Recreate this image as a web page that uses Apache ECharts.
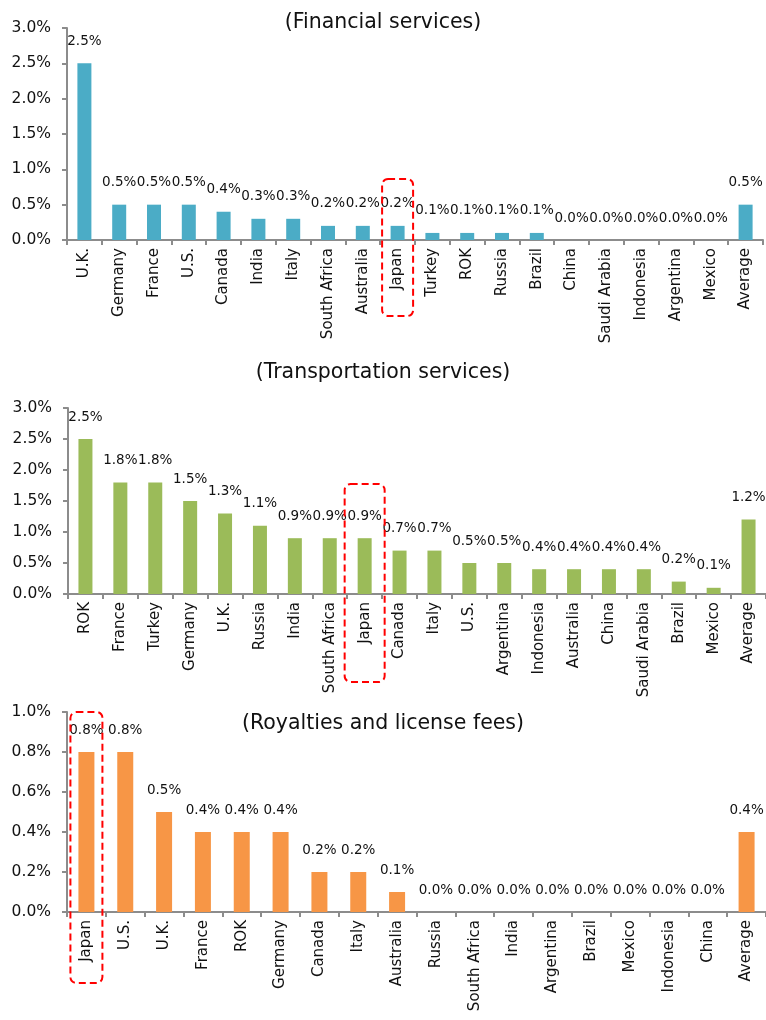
<!DOCTYPE html>
<html>
<head>
<meta charset="utf-8">
<script src="https://cdn.jsdelivr.net/npm/echarts@6/dist/echarts.min.js"></script>
<style>
  html, body { margin: 0; padding: 0; background: #fff; }
  #chart { width: 766px; height: 1020px; }
</style>
</head>
<body>
<div id="chart"></div>
<script>
// values are in percent
var finCats = ['U.K.', 'Germany', 'France', 'U.S.', 'Canada', 'India', 'Italy', 'South Africa', 'Australia', 'Japan',
  'Turkey', 'ROK', 'Russia', 'Brazil', 'China', 'Saudi Arabia', 'Indonesia', 'Argentina', 'Mexico', 'Average'];
var finVals = [2.5, 0.5, 0.5, 0.5, 0.4, 0.3, 0.3, 0.2, 0.2, 0.2, 0.1, 0.1, 0.1, 0.1, 0.0, 0.0, 0.0, 0.0, 0.0, 0.5];

var transCats = ['ROK', 'France', 'Turkey', 'Germany', 'U.K.', 'Russia', 'India', 'South Africa', 'Japan', 'Canada',
  'Italy', 'U.S.', 'Argentina', 'Indonesia', 'Australia', 'China', 'Saudi Arabia', 'Brazil', 'Mexico', 'Average'];
var transVals = [2.5, 1.8, 1.8, 1.5, 1.3, 1.1, 0.9, 0.9, 0.9, 0.7, 0.7, 0.5, 0.5, 0.4, 0.4, 0.4, 0.4, 0.2, 0.1, 1.2];

var royCats = ['Japan', 'U.S.', 'U.K.', 'France', 'ROK', 'Germany', 'Canada', 'Italy', 'Australia', 'Russia',
  'South Africa', 'India', 'Argentina', 'Brazil', 'Mexico', 'Indonesia', 'China', 'Average'];
var royVals = [0.8, 0.8, 0.5, 0.4, 0.4, 0.4, 0.2, 0.2, 0.1, 0.0, 0.0, 0.0, 0.0, 0.0, 0.0, 0.0, 0.0, 0.4];

var titles = ['(Financial services)', '(Transportation services)', '(Royalties and license fees)'];
var yMax = [3.0, 3.0, 1.0];
var yStep = [0.5, 0.5, 0.2];
var colors = ['#4bacc6', '#9bbb59', '#f79646'];

var FONT = 'DejaVu Sans';
var AXIS_GREY = '#8c8c8c';

var panels = [
  { cats: finCats, vals: finVals, grid: { left: 67, right: 3, top: 28, height: 212 }, barW: 14, titleTop: 7 },
  { cats: transCats, vals: transVals, grid: { left: 68, right: -3, top: 408, height: 186 }, barW: 14, titleTop: 357 },
  { cats: royCats, vals: royVals, grid: { left: 67, right: -6, top: 712, height: 200 }, barW: 16, titleTop: 708 }
];

var myChart = echarts.init(document.getElementById('chart'));

var option = {
  backgroundColor: '#ffffff',
  animation: false,
  title: [],
  grid: [],
  xAxis: [],
  yAxis: [],
  series: []
};

panels.forEach(function (p, i) {
  option.title.push({
    text: titles[i],
    left: 'center',
    top: p.titleTop,
    textStyle: { fontFamily: FONT, fontSize: 20.5, fontWeight: 'normal', color: '#111' }
  });
  option.grid.push({ left: p.grid.left, right: p.grid.right, top: p.grid.top, height: p.grid.height, containLabel: false });
  option.xAxis.push({
    type: 'category',
    gridIndex: i,
    data: p.cats,
    axisLine: { lineStyle: { color: AXIS_GREY, width: 2 } },
    axisTick: { show: true, length: 5, lineStyle: { color: AXIS_GREY, width: 2 } },
    axisLabel: {
      interval: 0,
      rotate: 90,
      margin: 8,
      fontFamily: FONT,
      fontSize: 15,
      color: '#111'
    },
    splitLine: { show: false }
  });
  option.yAxis.push({
    type: 'value',
    gridIndex: i,
    min: 0,
    max: yMax[i],
    interval: yStep[i],
    axisLine: { show: true, lineStyle: { color: AXIS_GREY, width: 2 } },
    axisTick: { show: true, length: 5, lineStyle: { color: AXIS_GREY, width: 2 } },
    splitLine: { show: false },
    axisLabel: {
      margin: 16,
      fontFamily: FONT,
      fontSize: 15.5,
      color: '#111',
      formatter: function (v) { return v.toFixed(1) + '%'; }
    }
  });
  option.series.push({
    type: 'bar',
    xAxisIndex: i,
    yAxisIndex: i,
    data: p.vals,
    barWidth: p.barW,
    itemStyle: { color: colors[i] },
    label: {
      show: true,
      position: 'top',
      distance: 15,
      fontFamily: FONT,
      fontSize: 13.5,
      color: '#111',
      formatter: function (d) { return d.value.toFixed(1) + '%'; }
    }
  });
});

myChart.setOption(option);

// dashed boxes around Japan; vertical extent given relative to each panel's axis baseline
var boxes = [
  { panel: 0, w: 31, up: 61, down: 76 },
  { panel: 1, w: 40, up: 110, down: 88 },
  { panel: 2, w: 32, up: 200, down: 71 }
];
var graphics = boxes.map(function (b) {
  var cx = myChart.convertToPixel({ xAxisIndex: b.panel }, 'Japan');
  var base = myChart.convertToPixel({ yAxisIndex: b.panel }, 0);
  return {
    type: 'rect',
    z: 100,
    shape: { x: cx - b.w / 2, y: base - b.up, width: b.w, height: b.up + b.down, r: 6 },
    style: { fill: 'none', stroke: '#ff0000', lineWidth: 2, lineDash: [7, 4] }
  };
});
myChart.setOption({ graphic: graphics });
</script>
</body>
</html>
